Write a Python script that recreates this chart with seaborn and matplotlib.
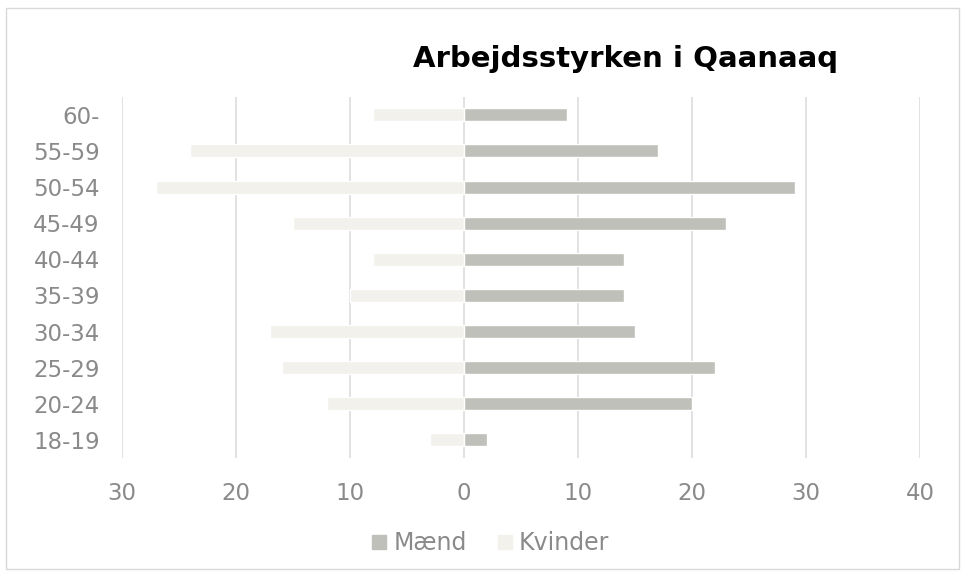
import matplotlib
matplotlib.use("Agg")
import matplotlib.pyplot as plt
import seaborn as sns
import pandas as pd
from matplotlib.patches import Rectangle
from matplotlib.lines import Line2D

age_groups = ["60-", "55-59", "50-54", "45-49", "40-44", "35-39", "30-34", "25-29", "20-24", "18-19"]
maend = [9, 17, 29, 23, 14, 14, 15, 22, 20, 2]
kvinder = [8, 24, 27, 15, 8, 10, 17, 16, 12, 3]
x_ticks = [-30, -20, -10, 0, 10, 20, 30, 40]
x_labels = ["30", "20", "10", "0", "10", "20", "30", "40"]

sns.set_theme(style="white")
plt.rcParams['font.family'] = ['DejaVu Sans']

col_m = "#C0C0BA"
col_k = "#F2F1EC"
txt = "#8A8A8A"

df = pd.DataFrame({"age": age_groups, "Mænd": maend, "Kvinder": [-v for v in kvinder]})

fig = plt.figure(figsize=(9.65, 5.76), dpi=100)
ax = fig.add_axes([0.1264, 0.205, 0.827, 0.627])

sns.barplot(data=df, y="age", x="Kvinder", order=age_groups, orient="h",
            color=col_k, saturation=1, width=0.36, ax=ax, zorder=2)
sns.barplot(data=df, y="age", x="Mænd", order=age_groups, orient="h",
            color=col_m, saturation=1, width=0.36, ax=ax, zorder=2)

ax.set_xlim(-30, 40)
ax.set_ylim(len(age_groups) - 0.5, -0.5)
ax.set_xticks(x_ticks)
ax.set_xticklabels(x_labels)
ax.xaxis.grid(True, color="#DDDDDD", linewidth=1.2, zorder=0)
ax.set_axisbelow(True)
for s in ax.spines.values():
    s.set_visible(False)
ax.set_xlabel("")
ax.set_ylabel("")
ax.tick_params(axis="both", length=0, labelsize=16.5, colors=txt)
ax.tick_params(axis="y", pad=16)
ax.tick_params(axis="x", pad=17)

fig.text(0.648, 0.897, "Arbejdsstyrken i Qaanaaq", ha="center", va="center",
         fontsize=21, fontweight="bold", color="#000000")

handles = [Line2D([0], [0], marker="s", linestyle="", markersize=10,
                  markerfacecolor=col_m, markeredgecolor=col_m, label="Mænd"),
           Line2D([0], [0], marker="s", linestyle="", markersize=10,
                  markerfacecolor=col_k, markeredgecolor=col_k, label="Kvinder")]
fig.legend(handles=handles, loc="center", bbox_to_anchor=(0.505, 0.057), ncol=2,
           frameon=False, fontsize=17, labelcolor=txt, handletextpad=0.0,
           columnspacing=1.0, handlelength=1.2)

fig.patches.append(Rectangle((0.006, 0.012), 0.988, 0.974, transform=fig.transFigure,
                             fill=False, edgecolor="#D9D9D9", linewidth=1))

fig.savefig("out.png", dpi=100, facecolor="white")
